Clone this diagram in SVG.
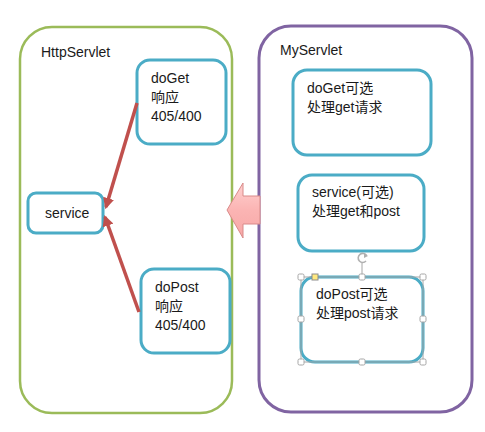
<svg xmlns="http://www.w3.org/2000/svg" width="485" height="432" viewBox="0 0 485 432">
<defs>
<style>
text{font-family:"Liberation Sans","Noto Sans CJK SC",sans-serif;font-size:14px;fill:#1a1a1a}
.box{fill:#fff;stroke:#4bacc6;stroke-width:3}
.handle{fill:#fff;stroke:#a6a6a6;stroke-width:1}
.conn{stroke:#c0504d;stroke-width:3.5;fill:none}
</style>
<linearGradient id="pink" x1="0" y1="0" x2="0" y2="1">
<stop offset="0" stop-color="#ffd0cf"/>
<stop offset="0.5" stop-color="#fbb4b3"/>
<stop offset="1" stop-color="#f7a7a6"/>
</linearGradient>
<marker id="ah" viewBox="0 0 10 10" refX="8" refY="5" markerWidth="3.2" markerHeight="3.2" orient="auto" markerUnits="strokeWidth">
<path d="M0,0 L10,5 L0,10 z" fill="#c0504d"/>
</marker>
</defs>
<rect width="485" height="432" fill="#fff"/>

<g id="HttpServlet">
<rect x="20" y="27" width="212" height="386" rx="32" fill="#fff" stroke="#9bbb59" stroke-width="2.5"/>
<text x="41" y="57">HttpServlet</text>
</g>

<g id="MyServlet">
<rect x="259" y="26" width="213" height="386" rx="32" fill="#fff" stroke="#8064a2" stroke-width="3"/>
<text x="280" y="55">MyServlet</text>
</g>

<g id="doGet">
<rect class="box" x="137" y="60" width="89" height="84" rx="13"/>
<text x="151" y="83">doGet</text>
<text x="151" y="102">响应</text>
<text x="151" y="121">405/400</text>
</g>

<g id="service">
<rect class="box" x="28" y="193" width="75" height="40" rx="8"/>
<text x="45" y="218">service</text>
</g>

<g id="doPost">
<rect class="box" x="141" y="269" width="89" height="84" rx="13"/>
<text x="155" y="292">doPost</text>
<text x="155" y="311">响应</text>
<text x="155" y="330">405/400</text>
</g>

<g id="myDoGet">
<rect class="box" x="293" y="70" width="138" height="85" rx="14"/>
<text x="307" y="93">doGet可选</text>
<text x="307" y="112">处理get请求</text>
</g>

<g id="myService">
<rect class="box" x="298" y="175" width="126" height="76" rx="14"/>
<text x="312" y="197">service(可选)</text>
<text x="312" y="216">处理get和post</text>
</g>

<g id="myDoPost">
<rect class="box" x="301" y="277" width="122" height="85" rx="14"/>
<text x="316" y="299">doPost可选</text>
<text x="316" y="318">处理post请求</text>
<g id="selection">
<rect x="301" y="277" width="122" height="85" fill="none" stroke="#a6a6a6" stroke-width="1"/>
<line x1="362" y1="263" x2="362" y2="277" stroke="#a6a6a6" stroke-width="1"/>
<path d="M366.5,255.5 A4.5,4.5 0 1 0 366,261" fill="none" stroke="#b0b0b0" stroke-width="1.6"/>
<path d="M364,253 L368,256 L364,258 z" fill="#b0b0b0"/>
<rect class="handle" x="298" y="274" width="6" height="6" rx="1.5"/>
<rect class="handle" x="359" y="274" width="6" height="6" rx="1.5"/>
<rect class="handle" x="420" y="274" width="6" height="6" rx="1.5"/>
<rect class="handle" x="298" y="316" width="6" height="6" rx="1.5"/>
<rect class="handle" x="420" y="316" width="6" height="6" rx="1.5"/>
<rect class="handle" x="298" y="359" width="6" height="6" rx="1.5"/>
<rect class="handle" x="359" y="359" width="6" height="6" rx="1.5"/>
<rect class="handle" x="420" y="359" width="6" height="6" rx="1.5"/>
<rect x="312" y="274" width="6" height="6" fill="#ffe97f" stroke="#8c8c8c" stroke-width="1"/>
</g>
</g>

<g id="connectors">
<line class="conn" x1="137" y1="103" x2="106" y2="207" marker-end="url(#ah)"/>
<line class="conn" x1="139" y1="312" x2="105" y2="217" marker-end="url(#ah)"/>
<path id="bigArrow" d="M227,210 L243,183 L243,196 L260,196 L260,224 L243,224 L243,238 z" fill="url(#pink)" stroke="#d98a89" stroke-width="1"/>
</g>
</svg>
